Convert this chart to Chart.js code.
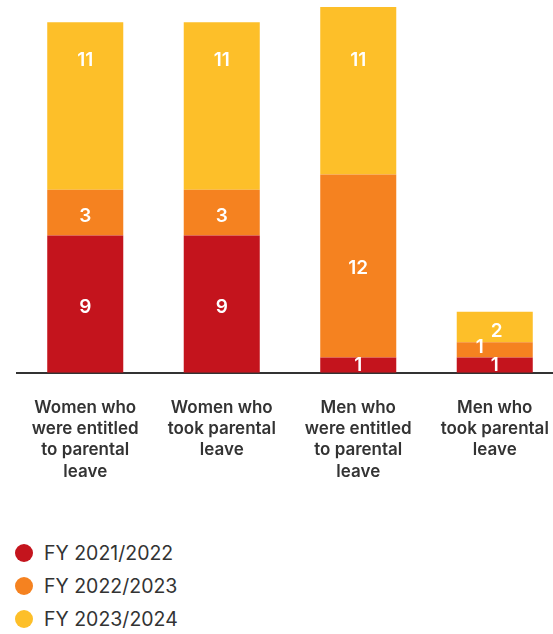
<!DOCTYPE html>
<html>
<head>
<meta charset="utf-8">
<script src="https://cdn.jsdelivr.net/npm/chart.js@4"></script>
<style>
  html, body { margin: 0; padding: 0; background: #fff; overflow: hidden; width: 553px; height: 634px; }
  #c { position: absolute; left: 0; top: 0; }
  #legend { position: absolute; left: 15px; top: 536px; font-family: Inter, "Noto Sans", sans-serif; font-size: 19.5px; color: #333; }
  .item { display: flex; align-items: center; height: 33px; }
  .dot { width: 18px; height: 18px; border-radius: 50%; margin-right: 11px; }
</style>
</head>
<body>
<canvas id="c" width="563" height="507" style="width:563px;height:507px"></canvas>
<div id="legend"></div>
<script>
const categories = [
  ["Women who", "were entitled", "to parental", "leave"],
  ["Women who", "took parental", "leave"],
  ["Men who", "were entitled", "to parental", "leave"],
  ["Men who", "took parental", "leave"]
];
const seriesNames = ["FY 2021/2022", "FY 2022/2023", "FY 2023/2024"];
const fy2122 = [9, 9, 1, 1];
const fy2223 = [3, 3, 12, 1];
const fy2324 = [11, 11, 11, 2];
const colors = ["#C4141D", "#F58220", "#FDBF29"];

// label nudges [dx, dy] per dataset / bar
const labelOffsets = [
  [[0, 3], [0, 3], [0, 0], [0, 0]],
  [[0, 4], [0, 4], [0, 2], [-15, -3]],
  [[0, -46], [0, -46], [0, -31], [2, 4]]
];

const barLabels = {
  id: 'barLabels',
  afterDatasetsDraw(chart) {
    const ctx = chart.ctx;
    ctx.save();
    ctx.fillStyle = '#fff';
    ctx.font = '600 19px Inter, "Noto Sans", sans-serif';
    ctx.textAlign = 'center';
    ctx.textBaseline = 'middle';
    chart.data.datasets.forEach((ds, di) => {
      const meta = chart.getDatasetMeta(di);
      meta.data.forEach((el, i) => {
        const p = el.getProps(['x', 'y', 'base'], true);
        const off = labelOffsets[di][i];
        ctx.fillText(String(ds.data[i]), p.x + off[0], (p.y + p.base) / 2 + off[1]);
      });
    });
    ctx.restore();
  }
};

const chart = new Chart(document.getElementById('c'), {
  type: 'bar',
  data: {
    labels: categories,
    datasets: [
      { label: seriesNames[0], data: fy2122, backgroundColor: colors[0] },
      { label: seriesNames[1], data: fy2223, backgroundColor: colors[1] },
      { label: seriesNames[2], data: fy2324, backgroundColor: colors[2] }
    ]
  },
  options: {
    responsive: false,
    devicePixelRatio: 1,
    animation: false,
    layout: { padding: { left: 17, top: 7, right: 0, bottom: 0 } },
    datasets: { bar: { categoryPercentage: 1, barPercentage: 0.557, borderWidth: 0 } },
    scales: {
      x: {
        stacked: true,
        afterFit(scale) { scale.paddingLeft = 0; scale.paddingRight = 0; },
        grid: { display: false, drawTicks: false },
        border: { display: true, color: '#333', width: 2 },
        ticks: {
          padding: 25,
          color: '#333',
          font: { family: 'Inter, "Noto Sans", sans-serif', size: 17, weight: '600', lineHeight: 1.24 },
          maxRotation: 0,
          autoSkip: false
        }
      },
      y: {
        stacked: true,
        display: false,
        min: 0,
        max: 24
      }
    },
    plugins: {
      legend: { display: false },
      tooltip: { enabled: false }
    }
  },
  plugins: [barLabels]
});

const leg = document.getElementById('legend');
chart.data.datasets.forEach(ds => {
  const it = document.createElement('div');
  it.className = 'item';
  const dot = document.createElement('span');
  dot.className = 'dot';
  dot.style.background = ds.backgroundColor;
  const t = document.createElement('span');
  t.textContent = ds.label;
  it.appendChild(dot);
  it.appendChild(t);
  leg.appendChild(it);
});
</script>
</body>
</html>
